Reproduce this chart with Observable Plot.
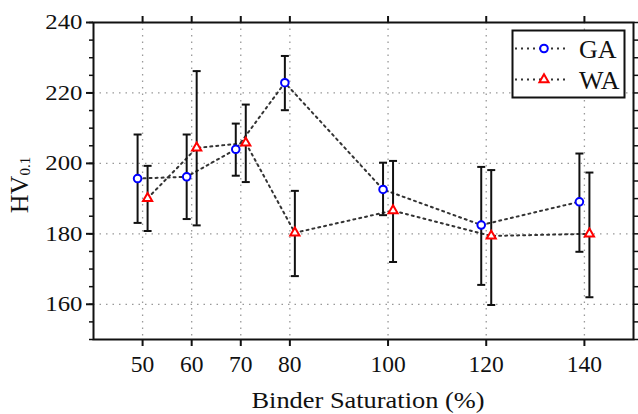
<!DOCTYPE html>
<html><head><meta charset="utf-8">
<script src="https://cdn.jsdelivr.net/npm/d3@7"></script>
<script src="https://cdn.jsdelivr.net/npm/@observablehq/plot@0.6"></script>
<style>body{margin:0;background:#fff} svg{display:block}</style>
</head><body><div id="chart"></div>
<script>
const saturation = [50, 60, 70, 80, 100, 120, 140];
const gaMean  = [195.7, 196.2, 204.0, 222.9, 192.6, 182.5, 189.1];
const gaUpper = [208.2, 208.2, 211.3, 230.5, 200.2, 199.0, 202.8];
const gaLower = [183.1, 184.2, 196.5, 215.1, 185.3, 165.5, 174.9];
const waMean  = [190.1, 204.4, 205.8, 180.3, 186.6, 179.4, 180.0];
const waUpper = [199.3, 226.2, 216.7, 192.2, 200.7, 198.1, 197.4];
const waLower = [180.8, 182.4, 194.7, 168.0, 172.0, 159.8, 162.0];
const xTicks = [50, 60, 70, 80, 100, 120, 140];
const yTicks = [160, 180, 200, 220, 240];
const yMinor = d3.range(150, 241, 5);
const seriesNames = ["GA", "WA"];

const ga = saturation.map((s, i) => ({s, m: gaMean[i], lo: gaLower[i], hi: gaUpper[i]}));
const wa = saturation.map((s, i) => ({s, m: waMean[i], lo: waLower[i], hi: waUpper[i]}));

const cap = {draw(ctx, size) { const w = Math.sqrt(size / Math.PI); ctx.moveTo(-w, 0); ctx.lineTo(w, 0); }};
const font = "'Liberation Serif', 'Times New Roman', serif";
const ink = "#111";
const gridStyle = {stroke: "#999", strokeOpacity: 1, strokeDasharray: "1.5,5", strokeWidth: 1.3};
const lineStyle = {stroke: "#333", strokeWidth: 2, strokeDasharray: "2,4"};

function errorMarks(data, dx) {
  return [
    Plot.ruleX(data, {x: "s", y1: "lo", y2: "hi", dx, stroke: ink, strokeWidth: 2}),
    Plot.dot(data, {x: "s", y: "lo", dx, symbol: cap, r: 4, stroke: ink, strokeWidth: 2}),
    Plot.dot(data, {x: "s", y: "hi", dx, symbol: cap, r: 4, stroke: ink, strokeWidth: 2})
  ];
}

const chart = Plot.plot({
  width: 638, height: 414,
  marginLeft: 93, marginRight: 5, marginTop: 22, marginBottom: 75,
  style: {fontFamily: font, background: "#fff", color: ink},
  x: {domain: [40, 150]},
  y: {domain: [150, 240]},
  marks: [
    Plot.gridY(yTicks.filter(t => t < 240), gridStyle),
    Plot.gridX(xTicks, gridStyle),
    Plot.axisY({ticks: yTicks, tickSize: 7, tickPadding: 4, fontSize: 21, label: null, strokeWidth: 2}),
    Plot.axisY({ticks: yMinor, tickSize: 4, text: null, label: null, strokeWidth: 1.5}),
    Plot.axisY({anchor: "right", ticks: yMinor, tickSize: 5, text: null, label: null, strokeWidth: 1.5}),
    Plot.axisX({ticks: xTicks, tickSize: 7, tickPadding: 9, fontSize: 23.5, label: null, strokeWidth: 2}),
    Plot.axisX({anchor: "top", ticks: xTicks, tickSize: 7, text: null, label: null, strokeWidth: 2}),
    Plot.frame({stroke: ink, strokeWidth: 2}),
    Plot.line(ga, {x: "s", y: "m", dx: -5, ...lineStyle}),
    Plot.line(wa, {x: "s", y: "m", dx: 5, ...lineStyle}),
    ...errorMarks(ga, -5),
    ...errorMarks(wa, 5),
    Plot.dot(ga, {x: "s", y: "m", dx: -5, r: 3.8, stroke: "#0000ff", fill: "white", strokeWidth: 2}),
    Plot.dot(wa, {x: "s", y: "m", dx: 5, symbol: "triangle", r: 3.4, stroke: "#ff0000", fill: "white", strokeWidth: 2})
  ]
});

const svg = d3.select(chart);
// widen y tick labels slightly, as in the reference
svg.selectAll('g[aria-label="y-axis tick label"] text').each(function() {
  const t = this.getAttribute("transform") || "";
  this.setAttribute("transform", t + " scale(1.18,1)");
});
// x label
svg.append("text").attr("transform", "translate(368,408) scale(1.1,1)").attr("text-anchor", "middle")
  .attr("font-family", font).attr("font-size", 24).attr("fill", ink).text("Binder Saturation (%)");
// y label with subscript
const yl = svg.append("text").attr("transform", "translate(28,185) rotate(-90)").attr("text-anchor", "middle")
  .attr("font-family", font).attr("font-size", 26).attr("fill", ink);
yl.append("tspan").text("HV");
yl.append("tspan").attr("font-size", 15).attr("dy", 2).text("0.1");
// legend
const lg = svg.append("g");
lg.append("rect").attr("x", 512.5).attr("y", 30.5).attr("width", 112).attr("height", 67)
  .attr("fill", "white").attr("stroke", ink).attr("stroke-width", 2);
const rows = [{y: 48.5, color: "#0000ff", sym: "circle"}, {y: 79.5, color: "#ff0000", sym: "triangle"}];
rows.forEach((r, i) => {
  lg.append("line").attr("x1", 515).attr("x2", 567).attr("y1", r.y).attr("y2", r.y)
    .attr("stroke", "#333").attr("stroke-width", 2).attr("stroke-dasharray", "2,4");
  if (r.sym === "circle") {
    lg.append("circle").attr("cx", 544).attr("cy", r.y).attr("r", 3.8).attr("fill", "white").attr("stroke", r.color).attr("stroke-width", 2);
  } else {
    lg.append("path").attr("transform", `translate(544,${r.y})`).attr("d", d3.symbol(d3.symbolTriangle, 3.4 * 3.4 * Math.PI)())
      .attr("fill", "white").attr("stroke", r.color).attr("stroke-width", 2);
  }
  lg.append("text").attr("x", 579).attr("y", r.y + 9).attr("text-anchor", "start")
    .attr("font-family", font).attr("font-size", 26).attr("fill", ink).text(seriesNames[i]);
});
document.getElementById("chart").appendChild(chart);
</script>
</body></html>
